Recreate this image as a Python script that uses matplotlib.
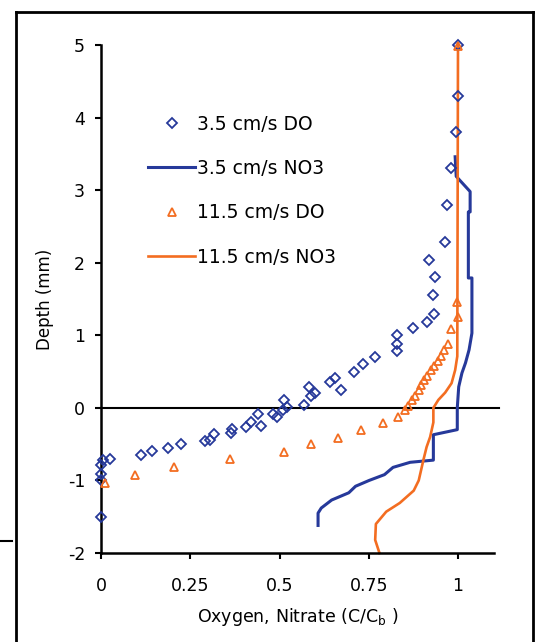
import matplotlib
matplotlib.use('Agg')
import matplotlib.pyplot as plt
from matplotlib.lines import Line2D

plt.rcParams['font.family'] = ['DejaVu Sans']
plt.rcParams['axes.unicode_minus'] = False

BLUE = '#26399a'
ORANGE = '#f36d21'

# 3.5 cm/s DO (diamonds)
do35_x = [1.0, 1.0, 0.995, 0.98, 0.969, 0.964, 0.919, 0.935, 0.931, 0.933, 0.914,
          0.874, 0.828, 0.830, 0.830, 0.768, 0.734, 0.708, 0.673, 0.656, 0.641,
          0.600, 0.584, 0.589, 0.569, 0.512, 0.520, 0.510, 0.493, 0.483, 0.440,
          0.447, 0.421, 0.405, 0.368, 0.364, 0.316, 0.306, 0.292, 0.225, 0.187,
          0.144, 0.112, 0.024, 0.005, 0.0, 0.0, 0.0, 0.0]
do35_y = [5.0, 4.3, 3.8, 3.30, 2.79, 2.28, 2.04, 1.80, 1.55, 1.29, 1.19,
          1.10, 1.00, 0.885, 0.78, 0.70, 0.61, 0.50, 0.25, 0.41, 0.35,
          0.21, 0.29, 0.16, 0.04, 0.11, 0.01, -0.03, -0.12, -0.08, -0.08,
          -0.25, -0.19, -0.27, -0.29, -0.34, -0.36, -0.44, -0.46, -0.50, -0.55,
          -0.59, -0.65, -0.70, -0.72, -0.79, -0.91, -1.0, -1.51]

# 3.5 cm/s NO3 (line)
no35_x = [0.992, 0.995, 1.034, 1.034, 1.029, 1.029, 1.039, 1.039, 1.031, 1.021,
          1.011, 1.002, 0.998, 0.998, 0.931, 0.931, 0.866, 0.818, 0.794, 0.751,
          0.713, 0.694, 0.646, 0.617, 0.608, 0.608]
no35_y = [3.46, 3.19, 2.98, 2.70, 2.70, 1.79, 1.79, 1.03, 0.80, 0.62,
          0.48, 0.29, 0.0, -0.30, -0.37, -0.72, -0.75, -0.82, -0.92, -1.0,
          -1.08, -1.17, -1.27, -1.38, -1.45, -1.62]

# 11.5 cm/s DO (triangles)
do115_x = [1.0, 0.998, 1.0, 0.981, 0.971, 0.962, 0.952, 0.943, 0.933, 0.923,
           0.914, 0.904, 0.897, 0.890, 0.880, 0.871, 0.861, 0.852, 0.833, 0.789,
           0.727, 0.663, 0.587, 0.512, 0.361, 0.204, 0.096, 0.010]
do115_y = [4.99, 1.46, 1.25, 1.08, 0.885, 0.80, 0.72, 0.65, 0.575, 0.52,
           0.445, 0.38, 0.31, 0.24, 0.17, 0.107, 0.03, -0.03, -0.12, -0.21,
           -0.31, -0.42, -0.50, -0.61, -0.70, -0.81, -0.92, -1.03]

# 11.5 cm/s NO3 (line)
no115_x = [1.0, 0.998, 0.992, 0.982, 0.964, 0.945, 0.931, 0.931, 0.922, 0.912,
           0.903, 0.89, 0.876, 0.837, 0.799, 0.770, 0.768, 0.780]
no115_y = [5.0, 0.71, 0.52, 0.34, 0.21, 0.11, 0.0, -0.2, -0.40, -0.54,
           -0.72, -1.0, -1.14, -1.31, -1.43, -1.60, -1.82, -2.0]

xticks = [0, 0.25, 0.5, 0.75, 1]
xticklabels = ['0', '0.25', '0.5', '0.75', '1']
yticks = [-2, -1, 0, 1, 2, 3, 4, 5]

fig = plt.figure(figsize=(5.35, 6.42), dpi=100)
ax = fig.add_axes([0.1888, 0.1386, 0.734, 0.7913])

ax.axhline(0, color='black', lw=1.5, xmax=1.013, clip_on=False, zorder=1)

ax.plot(do35_x, do35_y, linestyle='none', marker='D', markersize=5.2,
        markerfacecolor='none', markeredgecolor=BLUE, markeredgewidth=1.3,
        label='3.5 cm/s DO', clip_on=False, zorder=3)
ax.plot(no35_x, no35_y, color=BLUE, lw=2.2, label='3.5 cm/s NO3', zorder=2)
ax.plot(do115_x, do115_y, linestyle='none', marker='^', markersize=6,
        markerfacecolor='none', markeredgecolor=ORANGE, markeredgewidth=1.3,
        label='11.5 cm/s DO', clip_on=False, zorder=3)
ax.plot(no115_x, no115_y, color=ORANGE, lw=1.9, label='11.5 cm/s NO3',
        clip_on=False, zorder=2)

ax.set_xlim(0, 1.1)
ax.set_ylim(-2, 5)
ax.set_xticks(xticks)
ax.set_xticklabels(xticklabels)
ax.set_yticks(yticks)
ax.tick_params(direction='out', length=4, width=1.5, labelsize=12.5)
ax.tick_params(axis='x', pad=13)
ax.tick_params(axis='y', pad=7.5)
for s in ['top', 'right']:
    ax.spines[s].set_visible(False)
for s in ['left', 'bottom']:
    ax.spines[s].set_linewidth(1.8)

ax.set_xlabel('Oxygen, Nitrate (C/C$_\\mathregular{b}$ )', fontsize=12.5, labelpad=8)
ax.set_ylabel('Depth (mm)', fontsize=12, labelpad=10)

leg = ax.legend(loc='upper left', bbox_to_anchor=(0.12, 0.863), frameon=False,
                fontsize=13.5, handlelength=2.5, handletextpad=0.1,
                labelspacing=1.35, borderpad=0, borderaxespad=0)

# outer frame
W, H = 535, 642
def fx(px):
    return px / W
def fy(py):
    return 1 - py / H
fig.add_artist(Line2D([fx(16.4), fx(16.4)], [0, fy(11.5)], color='black', lw=2))
fig.add_artist(Line2D([fx(16.4), fx(533)], [fy(11.5), fy(11.5)], color='black', lw=2))
fig.add_artist(Line2D([fx(533), fx(533)], [0, fy(11.5)], color='black', lw=2))
fig.add_artist(Line2D([0, fx(12)], [fy(540.7), fy(540.7)], color='black', lw=1.5))

fig.savefig('out.png', dpi=100)
